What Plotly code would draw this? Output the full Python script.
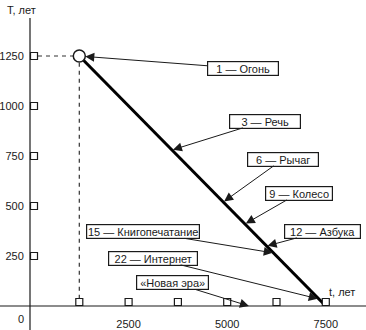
import plotly.graph_objects as go

# ---------------- data ----------------
line_t = [1250, 7500]          # t, лет
line_T = [1250, 0]             # T, лет
guide_t = [0, 1250, 1250]
guide_T = [1250, 1250, 0]
x_tick_vals = [2500, 5000, 7500]
x_tick_text = ["2500", "5000", "7500"]
y_tick_vals = [250, 500, 750, 1000, 1250]
y_tick_text = ["250", "500", "750", "1000", "1250"]
x_marks = [1250, 2500, 3750, 5000, 6250, 7500]
y_marks = [250, 500, 750, 1000, 1250]
labels = ["1 — Огонь", "3 — Речь", "6 — Рычаг", "9 — Колесо", "12 — Азбука",
          "15 — Книгопечатание", "22 — Интернет", "«Новая эра»"]
label_t = [1250, 3600, 4900, 5450, 6000, 6180, 7320, 5550]
label_T = [1250, 780, 520, 410, 300, 265, 35, 0]

# ---------------- layout geometry ----------------
W, H = 366, 330
L, B = 30, 24
PW, PH = W - L, H - B
X_MAX = PW * 1250 / 49.3
Y_MAX = PH * 5.0
dx = X_MAX / PW   # data units per pixel (x)
dy = Y_MAX / PH   # data units per pixel (y)

FONT = "Liberation Sans, Arial, sans-serif"
INK = "#1a1a1a"

# label box pixel offsets / sizes (style)
ax_off = [164, 93, 60, 54, 56, -131, -166, -76]
ay_off = [12.5, -29, -43, -31, -15, -21.5, -41, -23.5]
box_w = [72, 72, 72, 68, 77, 114, 90, 73]
standoffs = [6, 1, 1, 1, 1, 1, 1, 0]

fig = go.Figure()

# dashed guide lines
fig.add_trace(go.Scatter(x=guide_t, y=guide_T, mode="lines",
                         line=dict(color="#333", width=1.2, dash="4px,4px"),
                         hoverinfo="skip", cliponaxis=False))
# main line
fig.add_trace(go.Scatter(x=line_t, y=line_T, mode="lines",
                         line=dict(color="black", width=3),
                         hoverinfo="skip", cliponaxis=False))
# tick squares on y axis
fig.add_trace(go.Scatter(x=[4 * dx] * len(y_marks), y=y_marks, mode="markers",
                         marker=dict(symbol="square", size=7, color="white",
                                     line=dict(color=INK, width=1.2)),
                         hoverinfo="skip", cliponaxis=False))
# tick squares on x axis
fig.add_trace(go.Scatter(x=x_marks, y=[4 * dy] * len(x_marks), mode="markers",
                         marker=dict(symbol="square", size=7, color="white",
                                     line=dict(color=INK, width=1.2)),
                         hoverinfo="skip", cliponaxis=False))
# start circle
fig.add_trace(go.Scatter(x=line_t[:1], y=line_T[:1], mode="markers",
                         marker=dict(symbol="circle", size=12, color="white",
                                     line=dict(color=INK, width=1.5)),
                         hoverinfo="skip", cliponaxis=False))

annotations = []
for i, txt in enumerate(labels):
    annotations.append(dict(
        x=label_t[i], y=label_T[i], xref="x", yref="y",
        text=txt, showarrow=True, ax=ax_off[i], ay=ay_off[i],
        arrowhead=2, arrowsize=1.8, arrowwidth=1, arrowcolor=INK,
        standoff=standoffs[i],
        bordercolor=INK, borderwidth=1.2, borderpad=0, bgcolor="white",
        width=box_w[i] - 2, height=13, align="center",
        font=dict(family=FONT, size=11, color=INK)))

# axis titles and the origin label
annotations.append(dict(text="T, лет", xref="paper", yref="paper",
                        x=(5 - L) / PW, y=(PH - 10) / PH, xanchor="left", yanchor="middle",
                        showarrow=False, font=dict(family=FONT, size=11, color=INK)))
annotations.append(dict(text="t, лет", xref="paper", yref="paper",
                        x=(327 - L) / PW, y=(PH - 292) / PH, xanchor="left", yanchor="middle",
                        showarrow=False, font=dict(family=FONT, size=11, color=INK)))
annotations.append(dict(text="0", xref="paper", yref="paper",
                        x=(21 - L) / PW, y=(PH - 319) / PH, xanchor="center", yanchor="middle",
                        showarrow=False, font=dict(family=FONT, size=11, color=INK)))

shapes = [
    # y axis line
    dict(type="line", xref="paper", yref="paper", x0=0, x1=0,
         y0=(PH - H) / PH, y1=(PH - 18) / PH, line=dict(color=INK, width=1.2)),
    # x axis line
    dict(type="line", xref="paper", yref="paper", x0=-L / PW, x1=1,
         y0=0, y1=0, line=dict(color=INK, width=1.2)),
]

fig.update_layout(
    width=W, height=H,
    margin=dict(l=L, r=0, t=0, b=B, pad=0),
    paper_bgcolor="white", plot_bgcolor="white",
    showlegend=False,
    annotations=annotations, shapes=shapes,
    xaxis=dict(range=[0, X_MAX], showgrid=False, zeroline=False, showline=False,
               tickvals=x_tick_vals, ticktext=x_tick_text,
               ticks="outside", ticklen=8, tickcolor="rgba(0,0,0,0)",
               tickfont=dict(family=FONT, size=11, color=INK), fixedrange=True),
    yaxis=dict(range=[0, Y_MAX], showgrid=False, zeroline=False, showline=False,
               tickvals=y_tick_vals, ticktext=y_tick_text,
               ticks="outside", ticklen=3, tickcolor="rgba(0,0,0,0)",
               tickfont=dict(family=FONT, size=11, color=INK), fixedrange=True),
)

fig.write_html("out.html")
